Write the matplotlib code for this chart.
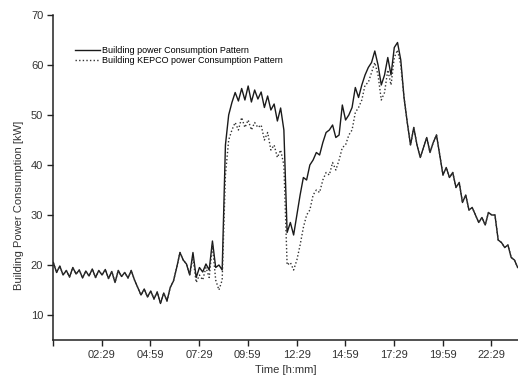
import matplotlib.pyplot as plt
import numpy as np

plt.rcParams['font.family'] = ['Liberation Sans', 'DejaVu Sans']

# time axis in minutes, one sample every 10 min
minutes = np.arange(0, 1440, 10)

# building load [kW]
building = [
    20.5, 18.5, 19.8, 18.0, 18.9, 17.6, 19.5, 18.2, 19.0, 17.4,
    18.8, 17.8, 19.2, 17.5, 18.9, 18.0, 19.1, 17.3, 18.7, 16.5,
    18.9, 17.7, 18.5, 17.4, 18.9, 17.0, 15.5, 14.0, 15.2, 13.6,
    14.8, 13.2, 14.6, 12.3, 14.4, 12.8, 15.5, 16.8, 19.5, 22.5,
    21.0, 20.2, 18.0, 22.5, 17.5, 19.5, 18.6, 20.2, 19.0, 24.8,
    19.5, 20.0, 19.0, 44.0, 50.0, 52.5, 54.5, 52.8, 55.3, 53.0,
    55.8, 52.6, 55.0, 53.2, 54.6, 51.5, 53.8, 51.0, 52.2, 48.8,
    51.4, 47.0, 26.5, 28.5, 26.0, 30.0, 34.0, 37.5, 37.0, 40.0,
    41.0, 42.5, 42.0, 44.5, 46.5, 47.0, 48.0, 45.5, 46.0, 52.0,
    49.0, 50.0, 51.5, 55.5, 53.5, 56.0, 58.0, 59.5, 60.5, 62.8,
    60.0, 56.0, 58.0, 61.5, 58.0, 63.5, 64.5, 61.0, 53.5, 48.5,
    44.0, 47.5, 44.0, 41.5, 43.5, 45.5, 42.5, 44.5, 46.0, 42.0,
    38.0, 39.5, 37.5, 38.5, 35.5, 36.5, 32.5, 34.0, 31.0, 31.5,
    30.0, 28.5, 29.5, 28.0, 30.5, 30.0, 30.0, 25.0, 24.5, 23.5,
    24.0, 21.5, 21.0, 19.5,
]

# load drawn from KEPCO grid [kW]
kepco = [
    20.5, 18.5, 19.8, 18.0, 18.9, 17.6, 19.5, 18.2, 19.0, 17.4,
    18.8, 17.8, 19.2, 17.5, 18.9, 18.0, 19.1, 17.3, 18.7, 16.5,
    18.9, 17.7, 18.5, 17.4, 18.9, 17.0, 15.5, 14.0, 15.2, 13.6,
    14.8, 13.2, 14.6, 12.3, 14.4, 12.8, 15.5, 16.8, 19.5, 22.5,
    21.0, 20.2, 18.0, 21.5, 16.5, 18.0, 17.0, 19.5, 17.5, 24.0,
    17.0, 15.0, 17.0, 38.0, 45.0, 47.0, 48.5, 47.0, 49.5, 47.5,
    49.0, 47.0, 48.5, 47.5, 48.0, 45.0, 46.5, 43.0, 44.0, 41.5,
    43.0, 40.0, 20.0, 20.5, 19.0, 21.0, 24.0, 27.5, 30.0, 31.0,
    34.0, 35.0, 34.5, 37.0, 38.5, 38.0, 40.5, 39.0, 41.0, 43.5,
    44.0, 46.0, 47.0, 50.5, 51.5, 53.0, 56.0, 56.5, 58.5, 60.5,
    58.0, 53.0, 54.5, 59.0, 56.0, 61.5, 63.0, 60.0, 53.5, 48.5,
    44.0, 47.5, 44.0, 41.5, 43.5, 45.5, 42.5, 44.5, 46.0, 42.0,
    38.0, 39.5, 37.5, 38.5, 35.5, 36.5, 32.5, 34.0, 31.0, 31.5,
    30.0, 28.5, 29.5, 28.0, 30.5, 30.0, 30.0, 25.0, 24.5, 23.5,
    24.0, 21.5, 21.0, 19.5,
]

tick_minutes = [-1, 149, 299, 449, 599, 749, 899, 1049, 1199, 1349]
tick_labels = ['', '02:29', '04:59', '07:29', '09:59', '12:29',
               '14:59', '17:29', '19:59', '22:29']

fig = plt.figure(figsize=(5.18, 3.81), dpi=100)
ax = fig.add_axes([53 / 518, 41 / 381, 465 / 518, 325 / 381])

ax.plot(minutes, building, color='#1a1a1a', linewidth=1.0,
        label='Building power Consumption Pattern')
ax.plot(minutes, kepco, color='#333333', linewidth=1.0, linestyle=(0, (1, 1.6)),
        label='Building KEPCO power Consumption Pattern')

ax.set_xlim(-1, 1431)
ax.set_ylim(5, 70)
ax.set_xticks(tick_minutes)
ax.set_xticklabels(tick_labels)
ax.set_yticks(range(10, 71, 10))

for side in ['top', 'right']:
    ax.spines[side].set_visible(False)
for side in ['left', 'bottom']:
    ax.spines[side].set_linewidth(1.1)
    ax.spines[side].set_color('#222222')
ax.tick_params(direction='out', length=4, width=1, colors='#222222',
               labelsize=8, labelcolor='#333333', pad=3)

ax.set_xlabel('Time [h:mm]', fontsize=8, color='#333333')
ax.set_ylabel('Building Power Consumption [kW]', fontsize=8, color='#333333')
ax.yaxis.set_label_coords(-0.062, 0.415)

ax.legend(loc='upper left', bbox_to_anchor=(0.04, 0.915), frameon=False,
          fontsize=6.5, handlelength=2.8, handletextpad=0.15,
          labelspacing=0.05, borderaxespad=0)

fig.savefig('out.png', dpi=100)
